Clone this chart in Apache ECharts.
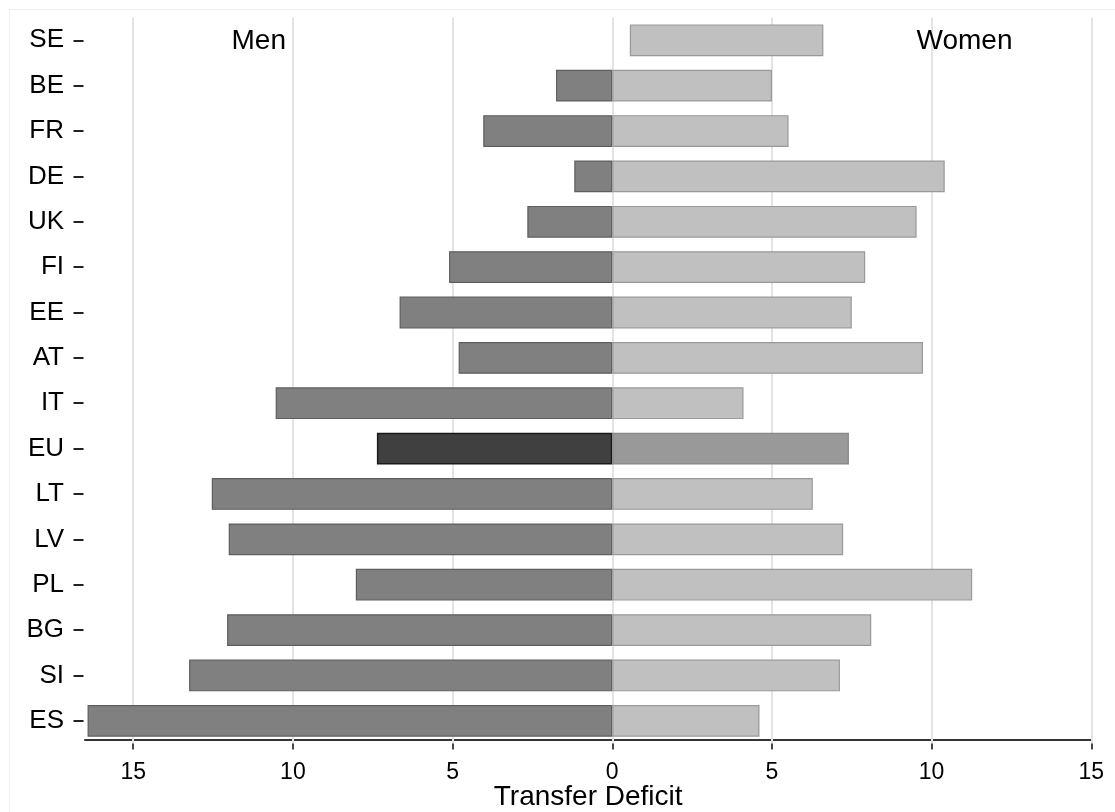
<!DOCTYPE html>
<html>
<head>
<meta charset="utf-8">
<script src="https://cdn.jsdelivr.net/npm/echarts@6/dist/echarts.min.js"></script>
<style>
html,body{margin:0;padding:0;background:#fff;}
#chart{width:1115px;height:812px;}
</style>
</head>
<body>
<div id="chart"></div>
<script>
const countries = ['SE','BE','FR','DE','UK','FI','EE','AT','IT','EU','LT','LV','PL','BG','SI','ES'];
const menDeficit = [null, 1.76, 4.04, 1.19, 2.66, 5.11, 6.66, 4.81, 10.54, 7.37, 12.54, 12.01, 8.03, 12.06, 13.25, 16.43];
const womenStart = [0.55, 0, 0, 0, 0, 0, 0, 0, 0, 0, 0, 0, 0, 0, 0, 0];
const womenEnd = [6.61, 5.00, 5.52, 10.41, 9.53, 7.92, 7.50, 9.73, 4.11, 7.41, 6.28, 7.23, 11.27, 8.11, 7.13, 4.61];
const xTicks = [-15, -10, -5, 0, 5, 10, 15];
const xMin = -16.51, xMax = 15;
const highlight = 'EU';

const FONT = '"Liberation Sans", Arial, sans-serif';

const chart = echarts.init(document.getElementById('chart'), null, {renderer: 'canvas'});

const menData = countries.map((c, i) => {
  const v = menDeficit[i] == null ? null : -menDeficit[i];
  if (c === highlight) {
    return {value: v, itemStyle: {color: '#404040', borderColor: '#1a1a1a', borderWidth: 1.5}};
  }
  return v;
});
const baseData = countries.map((c, i) => womenStart[i]);
const womenData = countries.map((c, i) => {
  const v = +(womenEnd[i] - womenStart[i]).toFixed(3);
  if (c === highlight) {
    return {value: v, itemStyle: {color: '#999999', borderColor: '#878787', borderWidth: 1.2}};
  }
  return v;
});

const option = {
  animation: false,
  backgroundColor: '#ffffff',
  textStyle: {fontFamily: FONT},
  grid: {left: 85, right: 23.7, top: 17.6, bottom: 68.5, containLabel: false, outerBoundsMode: 'none'},
  xAxis: {
    type: 'value',
    min: xMin,
    max: xMax,
    offset: -4,
    axisLine: {show: true, onZero: false, lineStyle: {color: '#333333', width: 2}},
    axisTick: {show: true, length: 10, customValues: xTicks, lineStyle: {color: '#333333', width: 1.8}},
    axisLabel: {
      customValues: xTicks,
      margin: 22,
      fontSize: 23,
      color: '#000',
      fontFamily: FONT,
      formatter: v => String(Math.abs(v))
    },
    splitLine: {show: false},
    name: 'Transfer Deficit',
    nameLocation: 'middle',
    nameGap: 44,
    nameMoveOverlap: false,
    nameTextStyle: {fontSize: 28, color: '#000', fontFamily: FONT}
  },
  yAxis: {
    type: 'category',
    data: countries,
    inverse: true,
    offset: 1.5,
    axisLine: {show: false, onZero: false},
    axisTick: {show: true, alignWithLabel: true, length: 10, lineStyle: {color: '#222222', width: 2}},
    axisLabel: {margin: 19.5, fontSize: 26, color: '#000', fontFamily: FONT},
    splitLine: {show: false}
  },
  series: [
    {
      name: 'grid',
      type: 'line',
      data: [],
      z: 1,
      silent: true,
      markLine: {
        silent: true,
        z: 1,
        symbol: ['none', 'none'],
        label: {show: false},
        lineStyle: {color: '#e3e3e3', width: 2, type: 'solid'},
        data: xTicks.map(v => ({xAxis: v}))
      }
    },
    {
      name: 'Men',
      type: 'bar',
      stack: 'all',
      data: menData,
      barCategoryGap: '30%',
      z: 3,
      itemStyle: {color: '#808080', borderColor: '#5e5e5e', borderWidth: 1.2}
    },
    {
      name: 'base',
      type: 'bar',
      stack: 'all',
      data: baseData,
      z: 2,
      silent: true,
      itemStyle: {color: 'rgba(0,0,0,0)', borderWidth: 0}
    },
    {
      name: 'Women',
      type: 'bar',
      stack: 'all',
      data: womenData,
      z: 3,
      itemStyle: {color: '#c0c0c0', borderColor: '#999999', borderWidth: 1.2}
    }
  ]
};

chart.setOption(option);

const menPos = chart.convertToPixel({gridIndex: 0}, [-11.07, 'SE']);
const womenPos = chart.convertToPixel({gridIndex: 0}, [11.03, 'SE']);
chart.setOption({
  graphic: [
    {type: 'rect', left: 7, top: 7, z: -10, silent: true,
     shape: {width: 1200, height: 900},
     style: {fill: 'none', stroke: '#efefef', lineWidth: 1}},
    {type: 'text', x: menPos[0], y: menPos[1] + 1, z: 10, silent: true,
     style: {text: 'Men', fontSize: 28, fontFamily: FONT, fill: '#000', align: 'center', verticalAlign: 'middle'}},
    {type: 'text', x: womenPos[0], y: womenPos[1] + 1, z: 10, silent: true,
     style: {text: 'Women', fontSize: 28, fontFamily: FONT, fill: '#000', align: 'center', verticalAlign: 'middle'}}
  ]
});
</script>
</body>
</html>
